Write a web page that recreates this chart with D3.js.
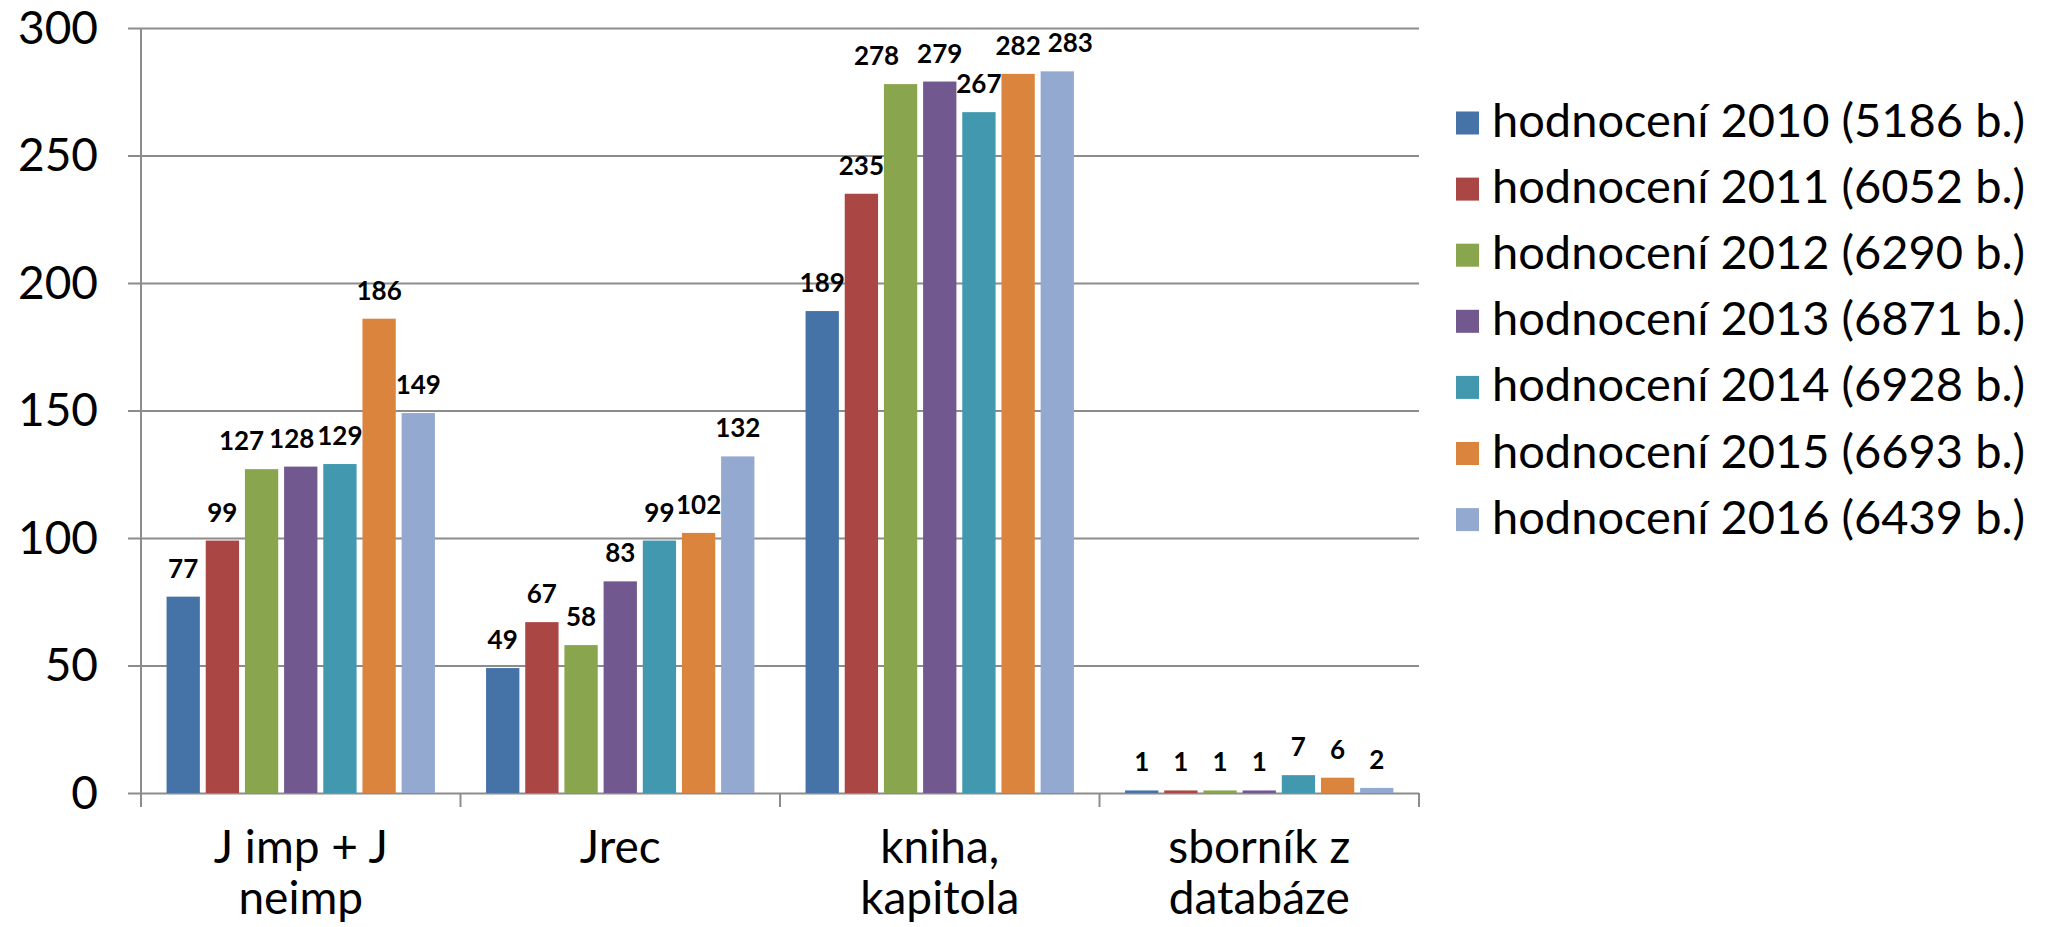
<!DOCTYPE html>
<html>
<head>
<meta charset="utf-8">
<script src="https://cdn.jsdelivr.net/npm/d3@7"></script>
<style>
  body { margin: 0; background: #fff; }
  svg { font-family: Lato, 'Open Sans', sans-serif; }
</style>
</head>
<body>
<svg width="2059" height="927"></svg>
<script>
const categories = [
  ['J imp + J', 'neimp'],
  ['Jrec'],
  ['kniha,', 'kapitola'],
  ['sborník z', 'databáze']
];
const seriesNames = [
  'hodnocení 2010 (5186 b.)',
  'hodnocení 2011 (6052 b.)',
  'hodnocení 2012 (6290 b.)',
  'hodnocení 2013 (6871 b.)',
  'hodnocení 2014 (6928 b.)',
  'hodnocení 2015 (6693 b.)',
  'hodnocení 2016 (6439 b.)'
];
// one row per category, one value per series
const values = [
  [77, 99, 127, 128, 129, 186, 149],
  [49, 67, 58, 83, 99, 102, 132],
  [189, 235, 278, 279, 267, 282, 283],
  [1, 1, 1, 1, 7, 6, 2]
];
// labels excel pushed sideways so they don't collide
const labelShift = [
  [0, 0, -20, -9, 0, 0, 0],
  [0, 0, 0, 0, 0, 0, 0],
  [0, 0, -24, 0, 0, 0, 13],
  [0, 0, 0, 0, 0, 0, 0]
];
const yTicks = [0, 50, 100, 150, 200, 250, 300];
const colors = ['#4572A7', '#AA4643', '#89A54E', '#71588F', '#4198AF', '#DB843D', '#93A9CF'];

let svg, x0, x1, y, z;
const plot = { left: 141, right: 1419, top: 28, bottom: 793 };
const gridColor = '#8c8c8c';
const font = "Lato, 'Open Sans', sans-serif";

function setScales() {
  svg = d3.select('svg');
  x0 = d3
    .scaleBand()
    .domain(d3.range(categories.length))
    .range([plot.left, plot.right])
    .paddingInner(0.16)
    .paddingOuter(0.08);
  x1 = d3
    .scaleBand()
    .domain(d3.range(seriesNames.length))
    .range([0, x0.bandwidth()])
    .paddingInner(0.15);
  y = d3.scaleLinear().domain([0, 300]).range([plot.bottom, plot.top]);
  z = d3.scaleOrdinal().domain(d3.range(seriesNames.length)).range(colors);
}

function setYAxis() {
  const ax = svg
    .append('g')
    .attr('class', 'y-axis')
    .attr('transform', 'translate(' + plot.left + ',0)')
    .call(
      d3.axisLeft(y)
        .tickValues(yTicks)
        .tickSize(-(plot.right - plot.left))
        .tickSizeOuter(0)
    );
  ax.attr('font-family', font).attr('font-size', 46);
  ax.select('.domain').remove();
  ax.selectAll('.tick line')
    .attr('x1', -13)
    .attr('stroke', gridColor)
    .attr('stroke-width', 2);
  ax.selectAll('.tick text')
    .attr('fill', '#000')
    .attr('x', -43)
    .attr('dy', 15);

  // vertical axis line
  svg.append('line')
    .attr('x1', plot.left)
    .attr('x2', plot.left)
    .attr('y1', plot.top)
    .attr('y2', plot.bottom)
    .attr('stroke', gridColor)
    .attr('stroke-width', 2);
}

function setXAxis() {
  const step = x0.step();
  const edges = d3.range(categories.length + 1).map(function (i) {
    return plot.left + i * step;
  });
  svg.append('g')
    .selectAll('line')
    .data(edges)
    .enter()
    .append('line')
    .attr('x1', function (d) { return d; })
    .attr('x2', function (d) { return d; })
    .attr('y1', plot.bottom)
    .attr('y2', plot.bottom + 14)
    .attr('stroke', gridColor)
    .attr('stroke-width', 2);

  const lbl = svg.append('g')
    .selectAll('text')
    .data(categories)
    .enter()
    .append('text')
    .attr('text-anchor', 'middle')
    .style('font-size', '46px')
    .attr('fill', '#000')
    .attr('transform', function (d, i) {
      return 'translate(' + (x0(i) + x0.bandwidth() / 2) + ',' + 863 + ')';
    });
  lbl.selectAll('tspan')
    .data(function (d) { return d; })
    .enter()
    .append('tspan')
    .attr('x', 0)
    .attr('y', function (d, i) { return i * 51; })
    .text(function (d) { return d; });
}

function setBars() {
  const barG = svg
    .append('g')
    .selectAll('g')
    .data(values)
    .enter()
    .append('g')
    .attr('transform', function (d, i) {
      return 'translate(' + x0(i) + ',0)';
    });

  function rows(d, ci) {
    return d.map(function (v, si) {
      return { value: v, s: si, c: ci };
    });
  }

  barG.selectAll('.bars')
    .data(rows)
    .enter()
    .append('rect')
    .attr('class', 'bars')
    .attr('x', function (d) { return x1(d.s); })
    .attr('width', x1.bandwidth())
    .attr('y', function (d) { return y(d.value); })
    .attr('height', function (d) { return plot.bottom - y(d.value); })
    .attr('fill', function (d) { return z(d.s); });

  barG.selectAll('.lbl')
    .data(rows)
    .enter()
    .append('text')
    .attr('class', 'lbl')
    .attr('text-anchor', 'middle')
    .attr('x', function (d) {
      return x1(d.s) + x1.bandwidth() / 2 + labelShift[d.c][d.s];
    })
    .attr('y', function (d) { return y(d.value) - 19; })
    .style('font-size', '26px')
    .style('font-weight', 'bold')
    .attr('fill', '#000')
    .text(function (d) { return d.value; });
}

function setLegend() {
  const legend = svg.append('g').attr('class', 'legend');
  const item = legend
    .selectAll('g')
    .data(seriesNames)
    .enter()
    .append('g')
    .attr('transform', function (d, i) {
      return 'translate(1456,' + (123 + i * 66.1) + ')';
    });

  item.append('rect')
    .attr('x', 0)
    .attr('y', -11.5)
    .attr('width', 23)
    .attr('height', 23)
    .attr('fill', function (d, i) { return z(i); });

  item.append('text')
    .attr('x', 36)
    .attr('y', 14)
    .style('font-size', '47px')
    .attr('fill', '#000')
    .text(function (d) { return d; });
}

setScales();
setYAxis();
setBars();
setXAxis();
setLegend();
</script>
</body>
</html>
